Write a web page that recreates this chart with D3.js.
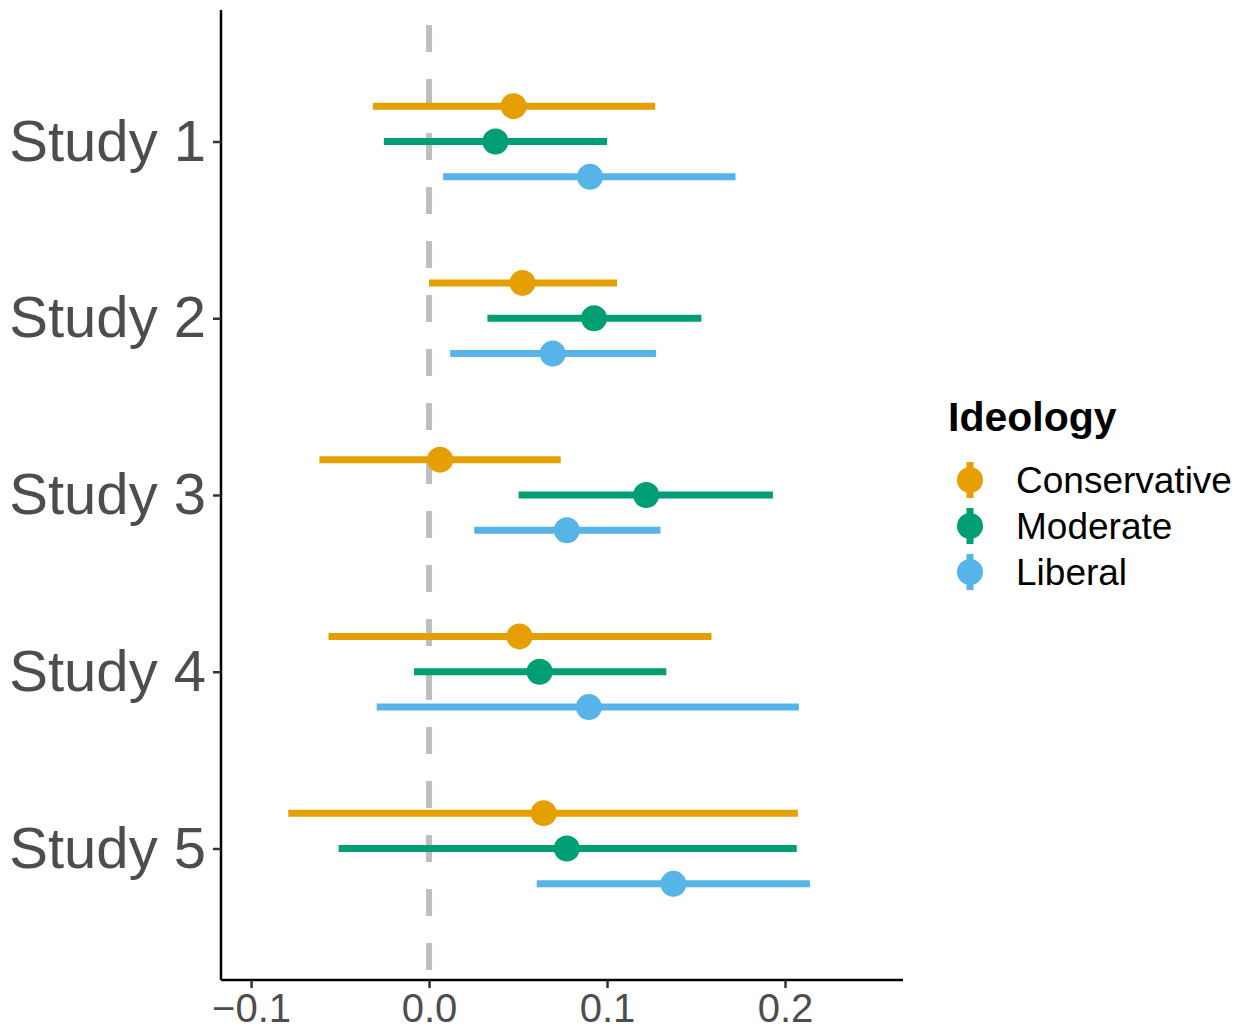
<!DOCTYPE html>
<html><head><meta charset="utf-8">
<script src="https://cdn.jsdelivr.net/npm/d3@7"></script>
<style>body{margin:0;background:#fff}svg{display:block}</style>
</head><body>
<script>
const studies = ["Study 1","Study 2","Study 3","Study 4","Study 5"];
const groups = ["Conservative","Moderate","Liberal"];
const colors = ["#E69F00","#009E73","#56B4E9"];
const xTicks = [-0.1, 0.0, 0.1, 0.2];
// estimates per study: [Conservative, Moderate, Liberal]
const est = [
  [0.0475, 0.0373, 0.0904],
  [0.0525, 0.0927, 0.0695],
  [0.0062, 0.1220, 0.0774],
  [0.0508, 0.0621, 0.0898],
  [0.0644, 0.0774, 0.1373]
];
const lower = [
  [-0.0316, -0.0254, 0.0079],
  [0.0000, 0.0328, 0.0119],
  [-0.0616, 0.0503, 0.0254],
  [-0.0565, -0.0085, -0.0294],
  [-0.0791, -0.0508, 0.0605]
];
const upper = [
  [0.1270, 0.1000, 0.1722],
  [0.1056, 0.1530, 0.1276],
  [0.0740, 0.1932, 0.1300],
  [0.1587, 0.1333, 0.2078],
  [0.2072, 0.2066, 0.2140]
];
const dodge = [-0.2, 0, 0.2];

(function(){
const W = 1249, H = 1030;
const svg = d3.select("body").append("svg").attr("width", W).attr("height", H);
const pL = 221, pR = 903, pT = 10, pB = 980;
const x = d3.scaleLinear().domain([-0.1169, 0.2663]).range([pL, pR]);
const y = d3.scalePoint().domain(studies).range([pT, pB]).padding(0.744);
const step = y.step();

const data = [];
studies.forEach((s, i) => groups.forEach((g, j) => data.push({
  s, g, j, est: est[i][j], lo: lower[i][j], hi: upper[i][j],
  yy: y(s) + dodge[j] * step
})));

svg.append("line")
  .attr("x1", x(0)).attr("x2", x(0)).attr("y1", pT).attr("y2", pB)
  .attr("stroke", "#BEBEBE").attr("stroke-width", 6)
  .attr("stroke-dasharray", "27 27").attr("stroke-dashoffset", 39);

const gm = svg.append("g");
gm.selectAll("line.ci").data(data).join("line").attr("class","ci")
  .attr("x1", d => x(d.lo)).attr("x2", d => x(d.hi))
  .attr("y1", d => d.yy).attr("y2", d => d.yy)
  .attr("stroke", d => colors[d.j]).attr("stroke-width", 7);
gm.selectAll("circle").data(data).join("circle")
  .attr("cx", d => x(d.est)).attr("cy", d => d.yy).attr("r", 13)
  .attr("fill", d => colors[d.j]);

const font = "'Liberation Sans', Arial, Helvetica, sans-serif";
const ax = svg.append("g").attr("transform", `translate(0,${pB})`)
  .call(d3.axisBottom(x).tickValues(xTicks).tickSize(8).tickPadding(6)
    .tickFormat(d => d === 0 ? "0.0" : d3.format(".1f")(d).replace("-", "\u2212")));
ax.select(".domain").attr("stroke", "#000").attr("stroke-width", 2.5).attr("d", `M${pL},0H${pR}`);
ax.selectAll(".tick line").attr("stroke", "#333").attr("stroke-width", 2.5);
ax.selectAll(".tick text").attr("fill", "#4D4D4D").attr("font-size", 40).attr("font-family", font);

const ay = svg.append("g").attr("transform", `translate(${pL},0)`)
  .call(d3.axisLeft(y).tickSize(8).tickPadding(7));
ay.select(".domain").attr("stroke", "#000").attr("stroke-width", 2.5).attr("d", `M0,${pT}V${pB}`);
ay.selectAll(".tick line").attr("stroke", "#333").attr("stroke-width", 2.5);
ay.selectAll(".tick text").attr("fill", "#4D4D4D").attr("font-size", 58).attr("font-family", font);

const lg = svg.append("g");
lg.append("text").attr("x", 948).attr("y", 431).text("Ideology")
  .attr("font-family", font).attr("font-weight", "bold").attr("font-size", 41).attr("fill", "#000");
const ly = [480, 526, 572];
groups.forEach((g, j) => {
  lg.append("line").attr("x1", 970).attr("x2", 970).attr("y1", ly[j] - 18).attr("y2", ly[j] + 18)
    .attr("stroke", colors[j]).attr("stroke-width", 7);
  lg.append("circle").attr("cx", 970).attr("cy", ly[j]).attr("r", 13).attr("fill", colors[j]);
  lg.append("text").attr("x", 1016).attr("y", ly[j]).attr("dy", "0.35em").text(g)
    .attr("font-family", font).attr("font-size", 37).attr("fill", "#000");
});
})();
</script>
</body></html>
